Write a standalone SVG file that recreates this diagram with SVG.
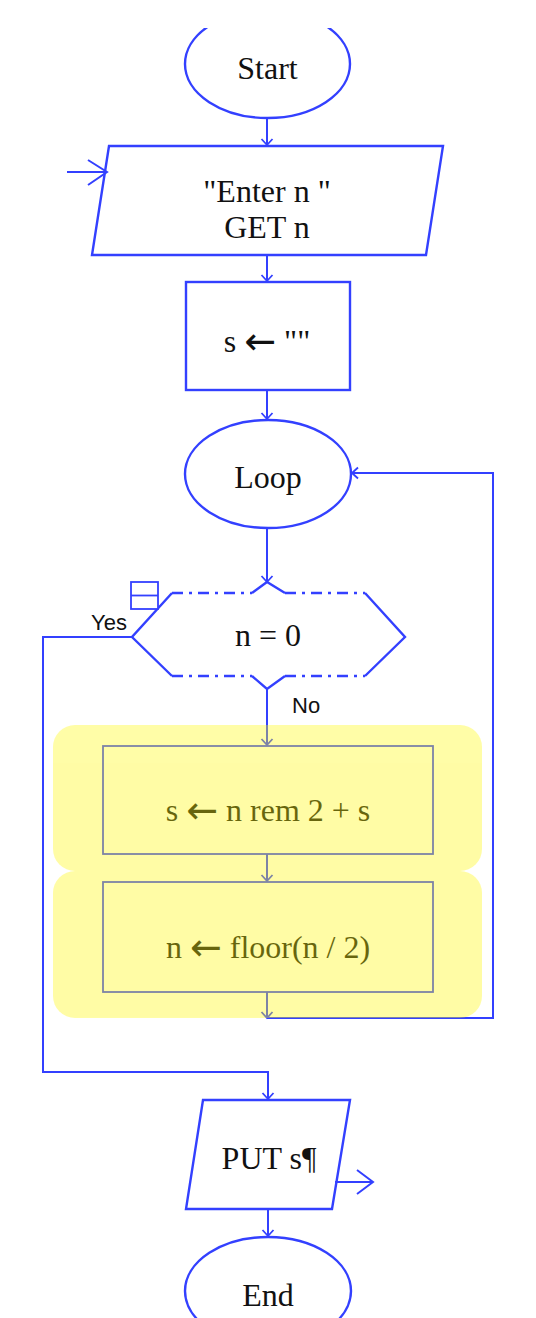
<svg xmlns="http://www.w3.org/2000/svg" width="536" height="1318" viewBox="0 0 536 1318">
<style>
.sh{fill:none;stroke:#3340ff;stroke-width:2.4}
.ln{fill:none;stroke:#3340ff;stroke-width:2}
.t{font-family:"Liberation Serif","Times New Roman",serif;font-size:32px;fill:#111;text-anchor:middle}
.ar{font-family:"DejaVu Sans",sans-serif;font-size:38px}
.lb{font-family:"Liberation Sans",Arial,sans-serif;font-size:22px;fill:#111}
</style>
<defs>
<clipPath id="top"><rect x="0" y="28" width="536" height="1290"/></clipPath>
<marker id="a" markerUnits="userSpaceOnUse" markerWidth="14" markerHeight="14" refX="7" refY="7" orient="auto" overflow="visible">
<path d="M1,1.5 L7,7 L1,12.5" fill="none" stroke="#3340ff" stroke-width="1.8"/>
</marker>
</defs>
<rect width="536" height="1318" fill="#fff"/>

<g id="start" clip-path="url(#top)">
<ellipse class="sh" cx="267.5" cy="64" rx="82.5" ry="54"/>
<text class="t" x="267.5" y="79">Start</text>
</g>

<g id="input">
<polygon class="sh" points="109,146 443,146 426,255 92,255"/>
<text class="t" x="267" y="202">"Enter n "</text>
<text class="t" x="267" y="238">GET n</text>
<path class="ln" d="M67,172 H107 M88,160 L107,172 L88,185"/>
</g>

<g id="init">
<rect class="sh" x="186" y="282" width="164" height="108"/>
<text class="t" x="267" y="352">s <tspan class="ar" dy="2">←</tspan><tspan dy="-2"> ""</tspan></text>
</g>

<g id="loop">
<ellipse class="sh" cx="268" cy="474" rx="83" ry="54"/>
<text class="t" x="268" y="488">Loop</text>
</g>

<g id="decision">
<path class="sh" d="M172,593 L132,637 L172,676 M365,593 L405,637 L365,676"/>
<path class="sh" d="M172,593 H252 M285,593 H365 M172,676 H252 M285,676 H365" stroke-dasharray="11,6,3,6"/>
<path class="sh" d="M252,593 L267,582 L285,593 M252,676 L267,689 L285,676"/>
<rect x="131" y="582" width="27" height="27" fill="#fff" stroke="#3340ff" stroke-width="1.8"/>
<line x1="131" y1="595.5" x2="158" y2="595.5" stroke="#3340ff" stroke-width="1.8"/>
<text class="t" x="268" y="646">n = 0</text>
</g>

<g id="body">
<g id="step1">
<rect x="103" y="746" width="330" height="108" fill="none" stroke="#3340ff" stroke-width="1.8"/>
<text class="t" x="268" y="821">s <tspan class="ar" dy="2">←</tspan><tspan dy="-2">  n rem 2 + s</tspan></text>
</g>
<g id="step2">
<rect x="103" y="882" width="330" height="110" fill="none" stroke="#3340ff" stroke-width="1.8"/>
<text class="t" x="268" y="958">n <tspan class="ar" dy="2">←</tspan><tspan dy="-2"> floor(n / 2)</tspan></text>
</g>
</g>

<g id="output">
<polygon class="sh" points="203,1100 350,1100 332,1209 186,1209"/>
<text class="t" x="269" y="1169">PUT s¶</text>
<path class="ln" d="M335,1182 H373 M357,1170 L373,1182 L357,1194"/>
</g>

<g id="end">
<ellipse class="sh" cx="268" cy="1291" rx="83" ry="54"/>
<text class="t" x="268" y="1306">End</text>
</g>

<g id="connectors">
<line class="ln" x1="267" y1="118" x2="267" y2="145" marker-end="url(#a)"/>
<line class="ln" x1="267" y1="255" x2="267" y2="281" marker-end="url(#a)"/>
<line class="ln" x1="267" y1="390" x2="267" y2="419" marker-end="url(#a)"/>
<line class="ln" x1="267" y1="528" x2="267" y2="582" marker-end="url(#a)"/>
<line class="ln" x1="267" y1="689" x2="267" y2="745" marker-end="url(#a)"/>
<line class="ln" x1="267" y1="854" x2="267" y2="881" marker-end="url(#a)"/>
<line class="ln" x1="267" y1="992" x2="267" y2="1018" marker-end="url(#a)"/>
<polyline class="ln" points="267,1018 493,1018 493,473 352,473" marker-end="url(#a)"/>
<polyline class="ln" points="132,637 43,637 43,1072 268,1072 268,1099" marker-end="url(#a)"/>
<line class="ln" x1="268" y1="1209" x2="268" y2="1236" marker-end="url(#a)"/>
<text class="lb" x="127" y="630" text-anchor="end">Yes</text>
<text class="lb" x="292" y="713">No</text>
</g>

<g id="highlight" opacity="0.36">
<rect x="53" y="725" width="429" height="146" rx="22" fill="#fff90a"/>
<rect x="53" y="871" width="429" height="147" rx="22" fill="#fff90a"/>
</g>
</svg>
